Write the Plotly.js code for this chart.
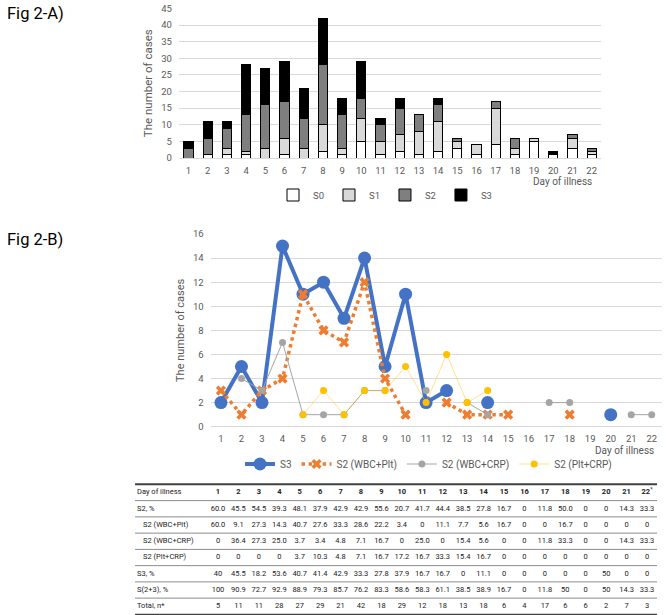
<!DOCTYPE html>
<html><head><meta charset="utf-8">
<script src="https://cdn.plot.ly/plotly-3.0.1.min.js"></script>
<style>html,body{margin:0;padding:0;background:#fff}#chart{width:666px;height:615px}</style>
</head><body><div id="chart"></div>
<script>
// ---------- data ----------
const days = [1,2,3,4,5,6,7,8,9,10,11,12,13,14,15,16,17,18,19,20,21,22];
const dayLabels = ["1","2","3","4","5","6","7","8","9","10","11","12","13","14","15","16","17","18","19","20","21","22"];

// Fig 2-A: stacked number of cases by severity
const barS0 = [null,1,1,1,null,1,null,2,1,5,1,2,1,2,3,1,4,1,5,1,3,1];
const barS1 = [null,null,2,1,3,5,3,8,2,7,4,5,7,9,2,3,11,2,1,null,3,1];
const barS2 = [3,5,6,11,13,11,9,18,10,6,5,8,5,5,1,null,2,3,null,null,1,1];
const barS3 = [2,5,2,15,11,12,9,14,5,11,2,3,null,2,null,null,null,null,null,1,null,null];

// Fig 2-B: number of cases per group
const lineS3     = [2,5,2,15,11,12,9,14,5,11,2,3,null,2,null,null,null,null,null,1,null,null];
const lineWbcPlt = [3,1,3,4,11,8,7,12,4,1,null,2,1,1,1,null,null,1,null,null,null,null];
const lineWbcCrp = [null,4,3,7,1,1,1,3,3,null,3,null,2,1,null,null,2,2,null,null,1,1];
const linePltCrp = [null,null,null,null,1,3,1,3,3,5,2,6,2,3,null,null,null,null,null,null,null,null];

// Table
const tableHeader = ["1","2","3","4","5","6","7","8","9","10","11","12","13","14","15","16","17","18","19","20","21","22<sup>*</sup>"];
const rowLabels = ["Day of illness","S2, %","S2 (WBC+Plt)","S2 (WBC+CRP)","S2 (Plt+CRP)","S3, %","S(2+3), %","Total, n*"];
const rowIndent = [false,false,true,true,true,false,false,false];
const rowS2     = ["60.0","45.5","54.5","39.3","48.1","37.9","42.9","42.9","55.6","20.7","41.7","44.4","38.5","27.8","16.7","0","11.8","50.0","0","0","14.3","33.3"];
const rowWbcPlt = ["60.0","9.1","27.3","14.3","40.7","27.6","33.3","28.6","22.2","3.4","0","11.1","7.7","5.6","16.7","0","0","16.7","0","0","0","0"];
const rowWbcCrp = ["0","36.4","27.3","25.0","3.7","3.4","4.8","7.1","16.7","0","25.0","0","15.4","5.6","0","0","11.8","33.3","0","0","14.3","33.3"];
const rowPltCrp = ["0","0","0","0","3.7","10.3","4.8","7.1","16.7","17.2","16.7","33.3","15.4","16.7","0","0","0","0","0","0","0","0"];
const rowS3     = ["40","45.5","18.2","53.6","40.7","41.4","42.9","33.3","27.8","37.9","16.7","16.7","0","11.1","0","0","0","0","0","50","0","0"];
const rowS23    = ["100","90.9","72.7","92.9","88.9","79.3","85.7","76.2","83.3","58.6","58.3","61.1","38.5","38.9","16.7","0","11.8","50","0","50","14.3","33.3"];
const rowTotal  = ["5","11","11","28","27","29","21","42","18","29","12","18","13","18","6","4","17","6","6","2","7","3"];

// ---------- layout helpers ----------
const W = 666, H = 615;
const px = v => v / W;
const py = v => 1 - v / H;
const FONT = "Roboto, 'Noto Sans', sans-serif";
const GREY = "#595959";

const traces = [];
const barLine = {color:"#000", width:1};
[["S0",barS0,"#ffffff"],["S1",barS1,"#d9d9d9"],["S2",barS2,"#7f7f7f"],["S3",barS3,"#000000"]].forEach(([n,v,c]) => {
  traces.push({type:"bar", name:n, x:days, y:v, xaxis:"x", yaxis:"y", width:0.47,
    marker:{color:c, line:barLine}, legend:"legend", hoverinfo:"skip"});
});

traces.push({type:"scatter", mode:"lines+markers", name:"S3", x:days, y:lineS3, xaxis:"x2", yaxis:"y2",
  line:{color:"#4472C4", width:4}, marker:{size:13, color:"#4472C4"}, legend:"legend2", hoverinfo:"skip"});
traces.push({type:"scatter", mode:"lines+markers", name:"S2 (WBC+Plt)", x:days, y:lineWbcPlt, xaxis:"x2", yaxis:"y2",
  line:{color:"#ED7D31", width:3.5, dash:"dot"}, marker:{size:9, color:"#ED7D31", symbol:"x"}, legend:"legend2", hoverinfo:"skip"});
traces.push({type:"scatter", mode:"lines+markers", name:"S2 (WBC+CRP)", x:days, y:lineWbcCrp, xaxis:"x2", yaxis:"y2",
  line:{color:"#A5A5A5", width:1}, marker:{size:7, color:"#A5A5A5"}, legend:"legend2", hoverinfo:"skip"});
traces.push({type:"scatter", mode:"lines+markers", name:"S2 (Plt+CRP)", x:days, y:linePltCrp, xaxis:"x2", yaxis:"y2",
  line:{color:"rgba(255,192,0,0.45)", width:1}, marker:{size:7, color:"#FFC000"}, legend:"legend2", hoverinfo:"skip"});

// table via text traces on a hidden axis pair
const tableRows = [tableHeader,rowS2,rowWbcPlt,rowWbcCrp,rowPltCrp,rowS3,rowS23,rowTotal];
const tx = [], ty = [], tt = [];
tableRows.forEach((row, r) => row.forEach((val, i) => {
  tx.push(days[i]); ty.push(r); tt.push(r === 0 ? "<b>" + val + "</b>" : val);
}));
traces.push({type:"scatter", mode:"text", x:tx, y:ty, text:tt, xaxis:"x3", yaxis:"y3",
  textfont:{family:FONT, size:7.5, color:"#222"}, textposition:"middle center", showlegend:false, hoverinfo:"skip"});
traces.push({type:"scatter", mode:"text", x:rowLabels.map((l,r)=> rowIndent[r] ? -2.67 : -2.965),
  y:rowLabels.map((l,r)=>r), text:rowLabels, xaxis:"x3", yaxis:"y3",
  textfont:{family:FONT, size:7.5, color:"#222"}, textposition:"middle right", showlegend:false, hoverinfo:"skip"});

const shapes = [];
for (let k = 0; k <= 8; k++) {
  const edge = (k === 0 || k === 8);
  shapes.push({type:"line", xref:"x3", yref:"y3", x0:-3.06, x1:22.49, y0:k-0.5, y1:k-0.5,
    line:{color: edge ? "#404040" : "#8c8c8c", width: k === 0 ? 2 : (edge ? 1.5 : 1)}});
}

const tickFont = {family:FONT, size:9.5, color:GREY};
const layout = {
  width:W, height:H, autosize:false, margin:{l:0,r:0,t:0,b:0},
  paper_bgcolor:"#fff", plot_bgcolor:"rgba(0,0,0,0)",
  font:{family:FONT, color:GREY},
  barmode:"stack", showlegend:true,
  xaxis:{domain:[px(178.9), px(601.3)], range:[0.5,22.5], tickvals:days, ticktext:dayLabels,
    showgrid:false, zeroline:false, showline:false, tickfont:tickFont, ticks:"", ticklabelstandoff:5, anchor:"y", fixedrange:true},
  yaxis:{domain:[py(158), py(8.5)], range:[0,45], dtick:5, gridcolor:"#d9d9d9", zeroline:true, zerolinecolor:"#d9d9d9",
    showline:false, tickfont:tickFont, ticks:"", ticklabelstandoff:6, anchor:"x",
    title:{text:"The number of cases", font:{family:FONT, size:11.5, color:GREY}, standoff:6}},
  xaxis2:{domain:[px(210.7), px(662)], range:[0.5,22.5], tickvals:days, ticktext:dayLabels,
    showgrid:false, zeroline:false, showline:false, tickfont:tickFont, ticks:"", ticklabelstandoff:5, anchor:"y2"},
  yaxis2:{domain:[py(426.7), py(234)], range:[0,16], dtick:2, gridcolor:"#d9d9d9", zeroline:true, zerolinecolor:"#d9d9d9",
    showline:false, tickfont:tickFont, ticks:"", ticklabelstandoff:6, anchor:"x2",
    title:{text:"The number of cases", font:{family:FONT, size:11, color:GREY}, standoff:6}},
  xaxis3:{domain:[0,1], range:[-9.671, 22.929], visible:false, anchor:"y3"},
  yaxis3:{domain:[0, py(478)], range:[7.538, -0.892], visible:false, anchor:"x3"},
  legend:{orientation:"h", x:px(385), xanchor:"center", y:py(195), yanchor:"middle",
    font:{family:FONT, size:9.5, color:GREY}, bgcolor:"rgba(0,0,0,0)", traceorder:"normal"},
  legend2:{orientation:"h", x:px(240), xanchor:"left", y:py(464), yanchor:"middle",
    font:{family:FONT, size:10, color:GREY}, bgcolor:"rgba(0,0,0,0)", traceorder:"normal"},
  shapes:shapes,
  annotations:[
    {text:"Fig 2-A)", xref:"paper", yref:"paper", x:px(5), y:py(14), xanchor:"left", yanchor:"middle", showarrow:false,
      font:{family:FONT, size:16.5, color:"#000"}},
    {text:"Fig 2-B)", xref:"paper", yref:"paper", x:px(5), y:py(239), xanchor:"left", yanchor:"middle", showarrow:false,
      font:{family:FONT, size:16.5, color:"#000"}},
    {text:"Day of illness", xref:"paper", yref:"paper", x:px(594), y:py(182), xanchor:"right", yanchor:"middle", showarrow:false,
      font:{family:FONT, size:10, color:GREY}},
    {text:"Day of illness", xref:"paper", yref:"paper", x:px(656), y:py(451), xanchor:"right", yanchor:"middle", showarrow:false,
      font:{family:FONT, size:10, color:GREY}}
  ]
};
Plotly.newPlot("chart", traces, layout, {staticPlot:true, displayModeBar:false});
</script></body></html>
